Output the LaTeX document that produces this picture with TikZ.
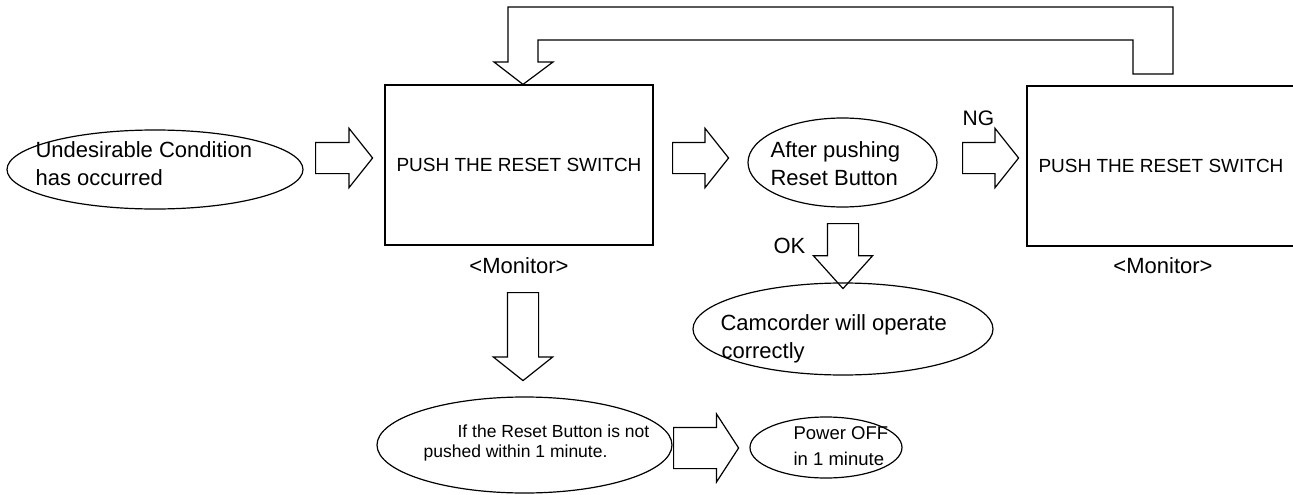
\documentclass[tikz,border=0pt]{standalone}
\usepackage{fontspec}
\setmainfont{Liberation Sans}
\usetikzlibrary{shapes.geometric,shapes.arrows}
\begin{document}
\begin{tikzpicture}[x=1pt,y=-1pt,line width=1.2pt,
  oval/.style={draw, ellipse, inner sep=0pt},
  panel/.style={draw, rectangle, inner sep=0pt, minimum width=268pt, minimum height=160pt,
    font=\fontsize{19}{23}\selectfont},
  barrow/.style={draw, single arrow, inner xsep=0pt, inner ysep=15pt, single arrow head extend=14pt,
    single arrow tip angle=103, anchor=tail},
  darrow/.style={barrow, inner xsep=15pt, inner ysep=0pt, shape border rotate=270},
  bigtxt/.style={font=\fontsize{22}{26}\selectfont, inner sep=0pt, anchor=base west},
  midtxt/.style={font=\fontsize{18.5}{22}\selectfont, inner sep=0pt, anchor=base west},
  smalltxt/.style={font=\fontsize{17.5}{21}\selectfont, inner sep=0pt, anchor=base west},
]
\useasboundingbox (0,0) rectangle (1293,495);
\clip (0,0) rectangle (1293,495);

% ellipses
\node[oval, minimum width=296pt, minimum height=79pt] (e1) at (155,169.5) {};
\node[oval, minimum width=189pt, minimum height=89pt] (e2) at (842.5,162.5) {};
\node[oval, minimum width=300pt, minimum height=92pt] (e3) at (843,329) {};
\node[oval, minimum width=295pt, minimum height=96pt] (e4) at (524.5,445) {};
\node[oval, minimum width=152pt, minimum height=61pt] (e5) at (826,447.5) {};

% ellipse texts
\node[bigtxt] (t1a) at (35,157) {Undesirable Condition};
\node[bigtxt] (t1b) at (35,185) {has occurred};
\node[bigtxt] (t2a) at (770,157) {After pushing};
\node[bigtxt] (t2b) at (770,185) {Reset Button};
\node[bigtxt] (t3a) at (720,330) {Camcorder will operate};
\node[bigtxt] (t3b) at (721,358) {correctly};
\node[smalltxt] (t4a) at (457,437) {If the Reset Button is not};
\node[smalltxt] (t4b) at (423,457) {pushed within 1 minute.};
\node[midtxt] (t5a) at (793,439) {Power OFF};
\node[midtxt] (t5b) at (793,465) {in 1 minute};

% boxes
\node[panel] (box1) at (519,165) {PUSH THE RESET SWITCH};
\node[panel] (box2) at (1161,166) {PUSH THE RESET SWITCH};
\node[bigtxt, anchor=base] (m1) at (519,273) {<Monitor>};
\node[bigtxt, anchor=base] (m2) at (1163,273) {<Monitor>};

% labels
\node[bigtxt, font=\fontsize{21}{25}\selectfont] (ng) at (962,125) {NG};
\node[bigtxt] (ok) at (773,253) {OK};

% block arrows
\node[barrow, minimum height=57pt] (a1) at (315,158) {};
\node[barrow, minimum height=56pt] (a2) at (672,158) {};
\node[barrow, minimum height=56pt] (a3) at (962,158) {};
\node[darrow, minimum height=88pt] (a4) at (523,292) {};
\node[darrow, minimum height=65pt, single arrow tip angle=84] (a5) at (843,223) {};
\node[barrow, minimum height=65pt, inner ysep=20pt, single arrow head extend=13.5pt,
      single arrow tip angle=114] (a6) at (673,448) {};

% feedback arrow from box2 back to box1
\draw (508,7) -- (1173,7) -- (1173,74) -- (1133,74) -- (1133,40) -- (538,40)
  -- (538,62) -- (553,62) -- (box1.north -| 523,0) -- (494,62) -- (508,62) -- cycle;
\end{tikzpicture}
\end{document}
